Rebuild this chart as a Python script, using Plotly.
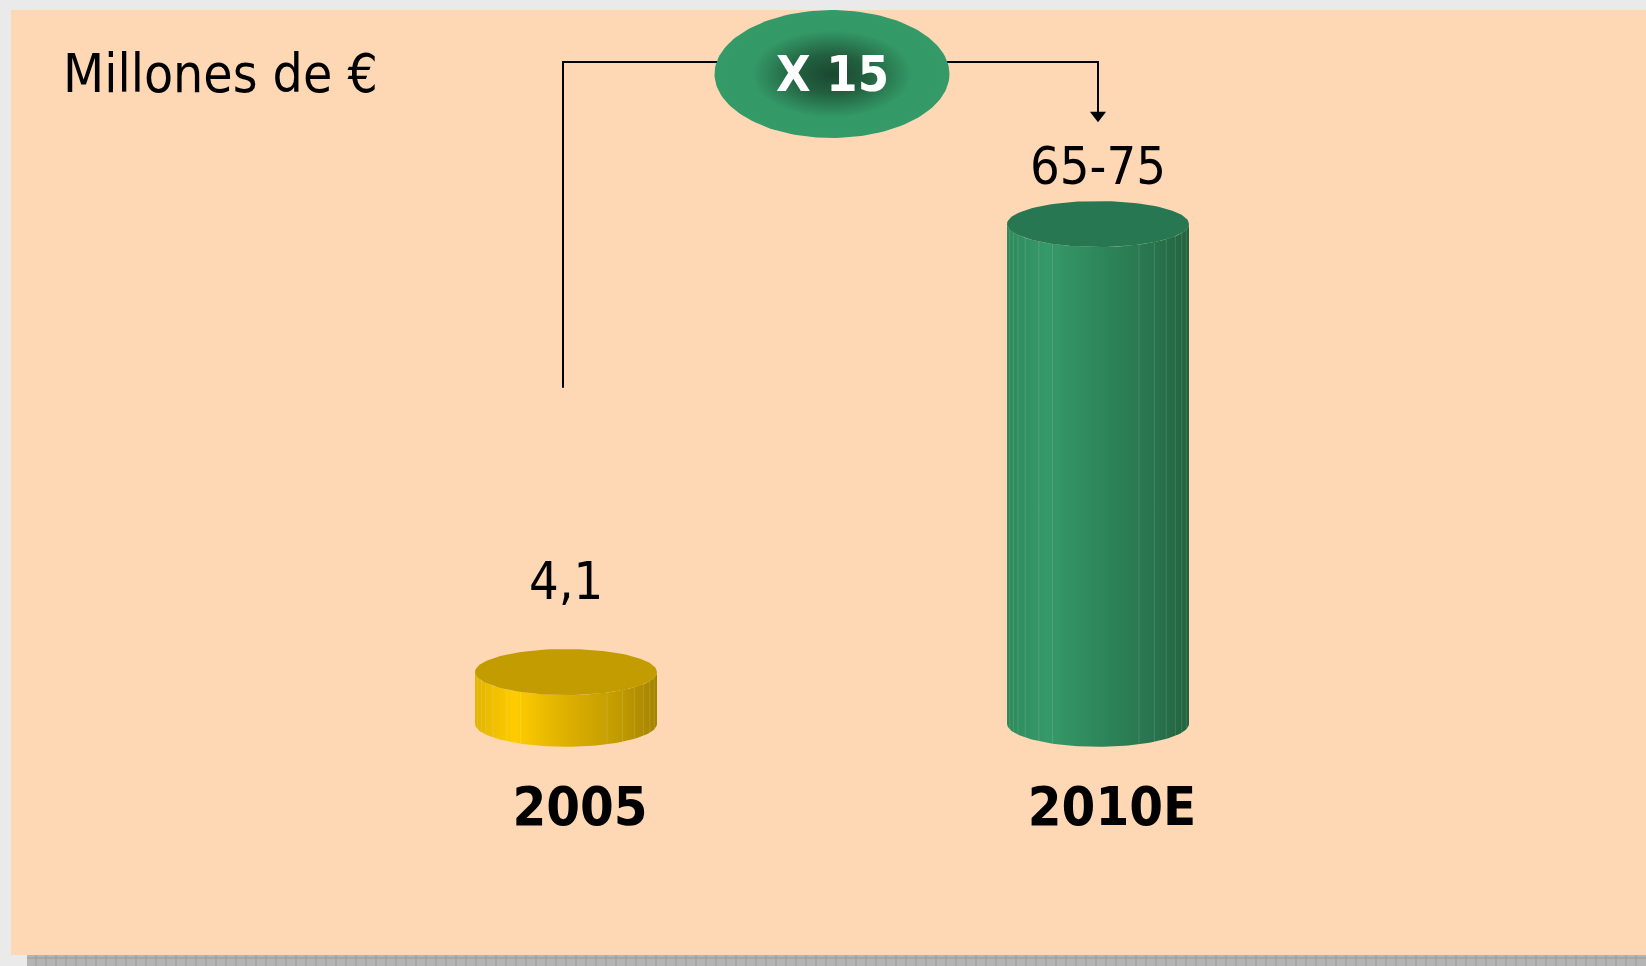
import numpy as np
import plotly.graph_objects as go

# ---- data ----
categories = ["2005", "2010E"]
values = [4.1, 70.0]
value_labels = ["4,1", "65-75"]
unit_label = "Millones de €"
growth_label = "X 15"

# ---- styling / layout constants ----
W, H = 1646, 966
FONT = "DejaVu Sans Condensed, DejaVu Sans, sans-serif"
FLOOR = -3.5                       # depth of the 3D floor of the original chart
KX, X_ORIGIN_PX = 532.0, 566.0     # px per category step, px of first category
KY, Y_ZERO_PX = 6.798, 699.9       # px per unit, px of value 0
RX_PX, RY_PX = 91.0, 23.0          # cylinder radii in px
rx, ry = RX_PX / KX, RY_PX / KY

body_scales = [
    [[0, "#E2B400"], [0.22, "#FFCC00"], [0.5, "#DDB000"], [0.8, "#C09A00"], [1, "#A48300"]],
    [[0, "#2E8A5C"], [0.22, "#36996A"], [0.5, "#2E875B"], [0.8, "#28744E"], [1, "#22633F"]],
]
top_colors = ["#C29C00", "#277752"]

xpos = list(range(len(categories)))
fig = go.Figure()

for i, (cx, v) in enumerate(zip(xpos, values)):
    th = np.linspace(np.pi, 2 * np.pi, 80)
    bx = cx + rx * np.cos(th)
    by = FLOOR + ry * np.sin(th)
    tx = (cx + rx * np.cos(th))[::-1]
    ty = (v + ry * np.sin(th))[::-1]
    px_ = np.concatenate([bx, tx, bx[:1]])
    py_ = np.concatenate([by, ty, by[:1]])
    fig.add_trace(go.Scatter(
        x=px_, y=py_, mode="lines", line=dict(width=0), fill="toself",
        fillgradient=dict(type="horizontal", colorscale=body_scales[i]),
        hoverinfo="skip", showlegend=False))
    # faint facet lines
    for f in [-0.97, -0.93, -0.88, -0.8, -0.65, -0.5, 0.45, 0.62, 0.75, 0.85, 0.92, 0.97]:
        fx = cx + rx * f
        yoff = ry * np.sqrt(max(0.0, 1 - f * f))
        fig.add_trace(go.Scatter(
            x=[fx, fx], y=[FLOOR - yoff, v - yoff], mode="lines",
            line=dict(color="rgba(255,255,255,0.13)", width=1),
            hoverinfo="skip", showlegend=False))
    th2 = np.linspace(0, 2 * np.pi, 120)
    fig.add_trace(go.Scatter(
        x=cx + rx * np.cos(th2), y=v + ry * np.sin(th2), mode="lines",
        line=dict(width=0), fill="toself", fillcolor=top_colors[i],
        hoverinfo="skip", showlegend=False))

# bracket connecting the two bars
vmax = max(values)
bracket_y = vmax + 23.85
tip_y = vmax + 16.0
brk_dx = -3 / KX
fig.add_trace(go.Scatter(
    x=[xpos[0] + brk_dx, xpos[0] + brk_dx, xpos[-1], xpos[-1]],
    y=[vmax - 24.1, bracket_y, bracket_y, tip_y],
    mode="lines", line=dict(color="black", width=2),
    hoverinfo="skip", showlegend=False))
fig.add_trace(go.Scatter(
    x=[xpos[-1]], y=[tip_y], mode="markers",
    marker=dict(symbol="triangle-down", size=14, color="black", line=dict(width=0)),
    hoverinfo="skip", showlegend=False))

# growth ellipse
ecx = (xpos[0] + xpos[-1]) / 2
ecy = vmax + 22.07
erx, ery = 117.5 / KX, 64.0 / KY
th3 = np.linspace(0, 2 * np.pi, 160)
fig.add_trace(go.Scatter(
    x=ecx + erx * np.cos(th3), y=ecy + ery * np.sin(th3), mode="lines",
    line=dict(width=0), fill="toself",
    fillgradient=dict(type="radial", colorscale=[
        [0, "#1A4830"], [0.3, "#225F3F"], [0.68, "#339966"], [1, "#349A68"]]),
    hoverinfo="skip", showlegend=False))

annotations = [
    dict(x=ecx, y=ecy, xref="x", yref="y", text=growth_label, showarrow=False,
         font=dict(family=FONT, size=50, color="white", weight="bold")),
    dict(x=61 / W, y=1 - 74 / H, xref="paper", yref="paper", text=unit_label,
         showarrow=False, xanchor="left", yanchor="middle",
         font=dict(family=FONT, size=53, color="black")),
]
label_shift = [91, 58]
for cx, v, lab, s in zip(xpos, values, value_labels, label_shift):
    annotations.append(dict(x=cx, y=v, xref="x", yref="y", text=lab, showarrow=False,
                            yshift=s, font=dict(family=FONT, size=52, color="black")))

shapes = [
    dict(type="rect", xref="paper", yref="paper", x0=11 / W, x1=1,
         y0=1 - 955 / H, y1=1 - 10 / H,
         fillcolor="#FED8B4", line=dict(width=0), layer="below"),
    dict(type="rect", xref="paper", yref="paper", x0=27 / W, x1=1, y0=0,
         y1=1 - 955 / H,
         fillcolor="#B4B4B4", line=dict(width=0), layer="below"),
    dict(type="line", xref="paper", yref="paper", x0=27 / W, x1=1,
         y0=1 - 958 / H, y1=1 - 958 / H,
         line=dict(color="#989898", width=1), layer="below"),
]
for xp in range(36, W, 10):
    shapes.append(dict(type="line", xref="paper", yref="paper",
                       x0=xp / W, x1=xp / W, y0=0, y1=1 - 955 / H,
                       line=dict(color="#9C9C9C", width=1), layer="below"))

fig.update_layout(
    width=W, height=H, margin=dict(l=0, r=0, t=0, b=0), autosize=False,
    paper_bgcolor="#EAEAEA", plot_bgcolor="rgba(0,0,0,0)",
    showlegend=False, annotations=annotations, shapes=shapes,
    xaxis=dict(range=[-X_ORIGIN_PX / KX, (W - X_ORIGIN_PX) / KX], tickvals=xpos, ticktext=categories,
               showgrid=False, zeroline=False, showline=False, ticks="",
               anchor="free", position=1 - 770 / H, ticklabelshift=14,
               tickfont=dict(family=FONT, size=54, color="black", weight="bold"),
               fixedrange=True),
    yaxis=dict(range=[(Y_ZERO_PX - H) / KY, Y_ZERO_PX / KY], visible=False, fixedrange=True,
               domain=[0, 1]),
)
fig.write_html("out.html", config={"displayModeBar": False},
               post_script="document.body.style.margin='0';document.body.style.background='#EAEAEA';document.body.style.overflow='hidden';")
